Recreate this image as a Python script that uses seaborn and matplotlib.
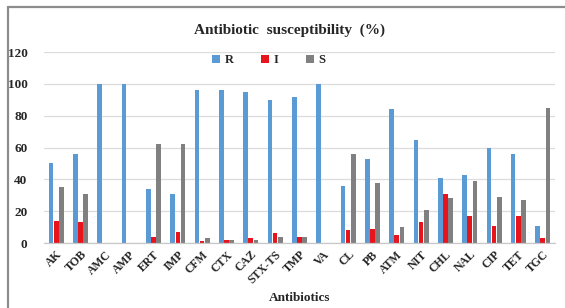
import matplotlib
matplotlib.use("Agg")
import matplotlib.pyplot as plt
import seaborn as sns
import pandas as pd
from matplotlib.lines import Line2D
from matplotlib.patches import Patch

categories = ["AK", "TOB", "AMC", "AMP", "ERT", "IMP", "CFM", "CTX", "CAZ", "STX-TS",
              "TMP", "VA", "CL", "PB", "ATM", "NIT", "CHL", "NAL", "CIP", "TET", "TGC"]
R = [50, 56, 100, 100, 34, 31, 96, 96, 95, 90, 92, 100, 36, 53, 84, 65, 41, 43, 60, 56, 11]
I = [14, 13, 0, 0, 4, 7, 1, 2, 3, 6, 4, 0, 8, 9, 5, 13, 31, 17, 11, 17, 3]
S = [35, 31, 0, 0, 62, 62, 3, 2, 2, 4, 4, 0, 56, 38, 10, 21, 28, 39, 29, 27, 85]
series_names = ["R", "I", "S"]
yticks = [0, 20, 40, 60, 80, 100, 120]

colors = {"R": "#5B9BD5", "I": "#E8141B", "S": "#808080"}

rows = []
for name, vals in zip(series_names, [R, I, S]):
    for c, v in zip(categories, vals):
        rows.append({"Antibiotic": c, "Result": name, "Value": v})
df = pd.DataFrame(rows)

sns.set_style("white")
plt.rcParams["font.family"] = ["Liberation Serif", "DejaVu Serif"]
plt.rcParams["font.weight"] = "bold"

fig = plt.figure(figsize=(5.65, 3.08), dpi=100)
ax = fig.add_axes([0.078, 0.211, 0.904, 0.620])

sns.barplot(data=df, x="Antibiotic", y="Value", hue="Result", order=categories,
            hue_order=series_names, palette=colors, width=0.64, gap=0.1,
            saturation=1, ax=ax, legend=False, linewidth=0, edgecolor="none")

ax.set_ylim(0, 120)
ax.set_yticks(yticks)
ax.set_xlim(-0.5, len(categories) - 0.5)
ax.yaxis.grid(True, color="#DCDCDC", linewidth=0.9)
ax.set_axisbelow(True)
for s in ["left", "right", "top"]:
    ax.spines[s].set_visible(False)
ax.spines["bottom"].set_color("#C8C8C8")
ax.spines["bottom"].set_linewidth(0.9)
ax.tick_params(axis="both", length=0, pad=4)
ax.tick_params(axis="y", labelsize=9.5, pad=12)
ax.set_xticks(range(len(categories)))
ax.set_xticklabels(categories, rotation=45, ha="right", rotation_mode="anchor",
                   fontsize=8.5, fontweight="bold")
for lab in ax.get_yticklabels():
    lab.set_fontweight("bold")
ax.set_ylabel("")
ax.set_xlabel("Antibiotics", fontsize=9.5, fontweight="bold", labelpad=4)

fig.text(0.513, 0.903, "Antibiotic  susceptibility  (%)", ha="center", va="center",
         fontsize=11, fontweight="bold")

handles = [Patch(facecolor=colors[n], edgecolor="none", label=n) for n in series_names]
fig.legend(handles=handles, loc="center", bbox_to_anchor=(0.476, 0.805), ncol=3,
           frameon=False, handlelength=0.6, handleheight=0.6,
           handletextpad=0.4, columnspacing=2.2, prop={"weight": "bold", "size": 9})

fig.add_artist(Line2D([8/565, 1.0], [1 - 7/308, 1 - 7/308], transform=fig.transFigure,
                      color="#8C8C8C", linewidth=1.6))
fig.add_artist(Line2D([8/565, 8/565], [1 - 7/308, 0.0], transform=fig.transFigure,
                      color="#8C8C8C", linewidth=1.6))

fig.savefig("out.png", dpi=100)
